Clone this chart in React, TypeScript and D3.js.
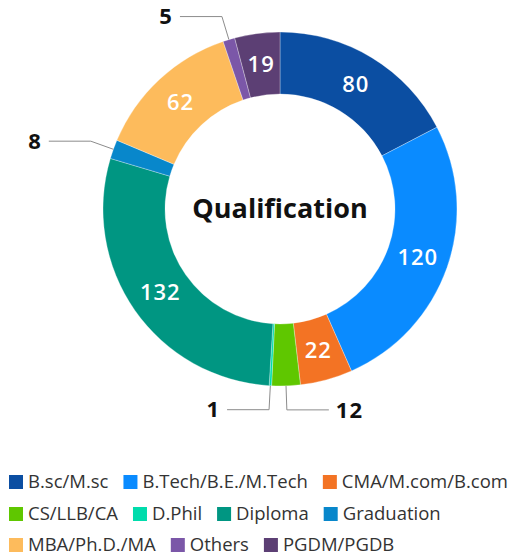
import { useMemo } from "react";
import * as d3 from "d3";

// qualification counts (clockwise from 12 o'clock)
const categories = [
  "B.sc/M.sc",
  "B.Tech/B.E./M.Tech",
  "CMA/M.com/B.com",
  "CS/LLB/CA",
  "D.Phil",
  "Diploma",
  "Graduation",
  "MBA/Ph.D./MA",
  "Others",
  "PGDM/PGDB",
];
const counts = [80, 120, 22, 12, 1, 132, 8, 62, 5, 19];
const colors = [
  "#0b4ea2",
  "#0a8bff",
  "#f37324",
  "#5fc700",
  "#00dcac",
  "#009682",
  "#0887cb",
  "#fdbb5c",
  "#7b57a8",
  "#5c3f74",
];
// legend rows (which categories sit on each line)
const legendRows = [
  [0, 1, 2],
  [3, 4, 5, 6],
  [7, 8, 9],
];

const W = 525;
const H = 556;
const FONT = "'Open Sans', 'Noto Sans', sans-serif";

type Row = { name: string; value: number; color: string };

// crude text measuring so the legend flows like the original
let ctx: CanvasRenderingContext2D | null = null;
function textW(s: string, font: string) {
  if (!ctx) ctx = document.createElement("canvas").getContext("2d");
  if (!ctx) return s.length * 9;
  ctx.font = font;
  return ctx.measureText(s).width;
}

export default function App() {
  const cx = 280;
  const cy = 209;
  const outerR = 177;
  const innerR = 115;

  const data: Row[] = categories.map((name, i) => ({ name, value: counts[i], color: colors[i] }));

  const arcs = useMemo(
    () =>
      d3
        .pie<Row>()
        .sort(null)
        .value((d) => d.value)
        .startAngle(0)
        .endAngle(2 * Math.PI)(data),
    []
  );

  const arc = d3.arc<d3.PieArcDatum<Row>>().innerRadius(innerR).outerRadius(outerR);
  const labelArc = d3.arc<d3.PieArcDatum<Row>>().innerRadius(146).outerRadius(146);

  // slices too thin for an inside label get a leader line
  const minInside = (13 * Math.PI) / 180;
  const elbowR = outerR + 24;
  const run = 42;

  const legendSize = 18.5;
  const legendFont = `${legendSize}px ${FONT}`;
  const legendY = [482, 514, 545];

  return (
    <svg width={W} height={H} style={{ position: "absolute", left: 0, top: 0 }} fontFamily={FONT}>
      <rect width={W} height={H} fill="#fff" />
      <g transform={`translate(${cx},${cy})`}>
        {arcs.map((a, i) => (
          <path key={i} d={arc(a) || ""} fill={a.data.color} stroke="#fff" strokeWidth={0.5} strokeOpacity={0.6} />
        ))}

        {arcs.map((a, i) => {
          const span = a.endAngle - a.startAngle;
          if (span >= minInside) {
            const [x, y] = labelArc.centroid(a);
            return (
              <text
                key={"l" + i}
                x={x}
                y={y}
                dy="0.35em"
                textAnchor="middle"
                fill="#fff"
                fontSize={22}
                fontWeight={600}
                letterSpacing={1}
              >
                {a.data.value}
              </text>
            );
          }
          const mid = (a.startAngle + a.endAngle) / 2;
          const sx = Math.sin(mid);
          const sy = -Math.cos(mid);
          const side = sx >= 0 ? 1 : -1;
          const p0: [number, number] = [sx * outerR, sy * outerR];
          const p1: [number, number] = [sx * elbowR, sy * elbowR];
          const p2: [number, number] = [p1[0] + side * run, p1[1]];
          return (
            <g key={"o" + i}>
              <polyline
                points={[p0, p1, p2].map((p) => p.join(",")).join(" ")}
                fill="none"
                stroke="#8c8c8c"
                strokeWidth={1}
              />
              <text
                x={p2[0] + side * 7}
                y={p2[1]}
                dy="0.35em"
                textAnchor={side > 0 ? "start" : "end"}
                fill="#111"
                fontSize={22}
                fontWeight={700}
                letterSpacing={1}
              >
                {a.data.value}
              </text>
            </g>
          );
        })}

        <text y={0} dy="0.35em" textAnchor="middle" fontSize={27} fontWeight={700} fill="#111">
          Qualification
        </text>
      </g>

      {legendRows.map((row, r) => {
        let x = 9;
        return (
          <g key={"row" + r}>
            {row.map((idx) => {
              const x0 = x;
              const tw = textW(categories[idx], legendFont);
              x += 14 + 5 + tw + 15;
              return (
                <g key={idx}>
                  <rect x={x0} y={legendY[r] - 7} width={14} height={14} fill={colors[idx]} />
                  <text x={x0 + 19} y={legendY[r]} dy="0.35em" fontSize={legendSize} fill="#333">
                    {categories[idx]}
                  </text>
                </g>
              );
            })}
          </g>
        );
      })}
    </svg>
  );
}
